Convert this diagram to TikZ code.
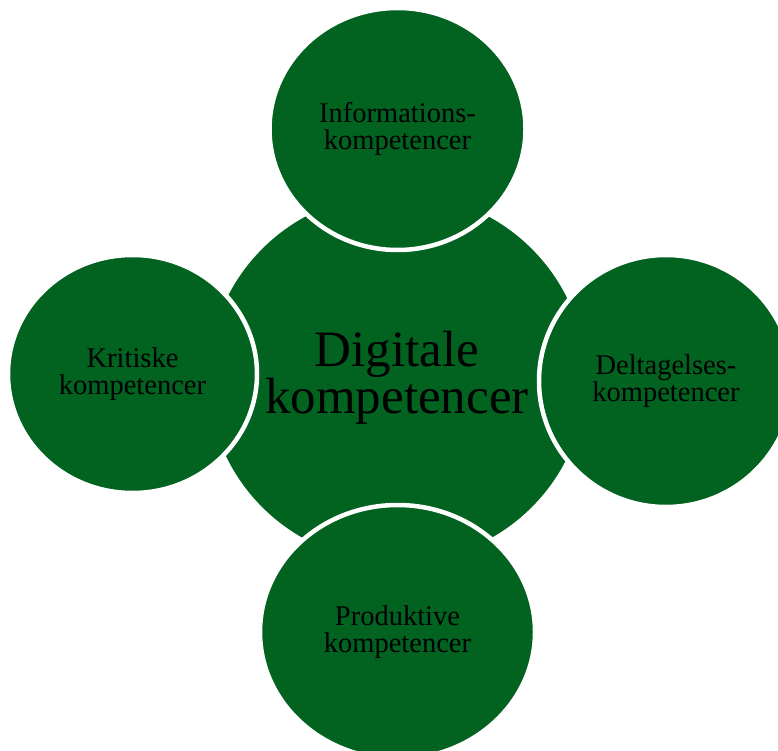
\documentclass[tikz,border=0pt]{standalone}
\usepackage{fontspec}
\setmainfont{Liberation Serif}
\usetikzlibrary{shapes.geometric}
\definecolor{kompgreen}{RGB}{2,98,32}

\begin{document}
\begin{tikzpicture}[x=1pt,y=-1pt,
  kompcircle/.style={ellipse, fill=kompgreen, draw=white, line width=4.5pt,
    inner sep=0pt, align=center, text=black,
    font=\fontsize{28.5}{27.5}\selectfont},
  kompcenter/.style={kompcircle, font=\fontsize{51}{45}\selectfont}]

\useasboundingbox (0,0) rectangle (778,751);
\clip (0,0) rectangle (778,751);

\node[kompcenter, minimum width=382pt, minimum height=374pt] (digital) at (397,378) {Digitale\\kompetencer};

\node[kompcircle, minimum width=256pt, minimum height=242pt] (info) at (397.5,129) {Informations-\\kompetencer};
\node[kompcircle, minimum width=249pt, minimum height=238pt] (krit) at (132.5,374) {Kritiske\\kompetencer};
\node[kompcircle, minimum width=254pt, minimum height=252pt] (delt) at (666,381) {Deltagelses-\\kompetencer};
\node[kompcircle, minimum width=275pt, minimum height=254pt] (prod) at (397.5,632) {Produktive\\kompetencer};
\end{tikzpicture}
\end{document}
